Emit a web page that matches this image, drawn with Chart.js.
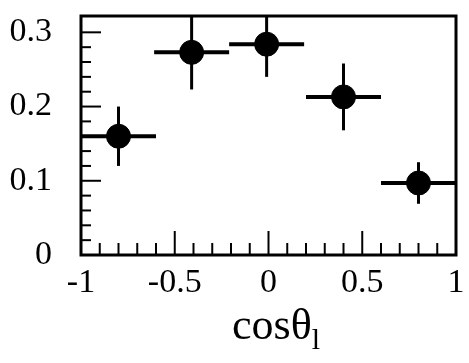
<!DOCTYPE html>
<html>
<head>
<meta charset="utf-8">
<script src="https://cdn.jsdelivr.net/npm/chart.js@4.4.1/dist/chart.umd.min.js"></script>
<style>
  body { margin: 0; background: #fff; }
  #wrap { position: relative; width: 469px; height: 363px; }
  #xTitle {
    position: absolute;
    left: 232px;
    top: 303px;
    font-family: "Liberation Serif", "Times New Roman", serif;
    font-size: 44px;
    line-height: 44px;
    color: #000;
  }
  #xTitle sub { font-size: 30px; vertical-align: -10px; line-height: 0; }
</style>
</head>
<body>
<div id="wrap">
  <canvas id="chart"></canvas>
  <div id="xTitle">cosθ<sub>l</sub></div>
</div>
<script>
  const xValues = [-0.8, -0.41, -0.01, 0.4, 0.8];
  const yValues = [0.16, 0.273, 0.284, 0.213, 0.097];
  const xErrors = [0.2, 0.2, 0.2, 0.2, 0.2];
  const yErrors = [0.04, 0.05, 0.044, 0.045, 0.028];

  const xTickLabels = [-1, -0.5, 0, 0.5, 1];
  const yTickLabels = [0, 0.1, 0.2, 0.3];

  const serif = "'Liberation Serif', 'Times New Roman', serif";

  function isLabel(list, value) {
    return list.some((v) => Math.abs(v - value) < 1e-6);
  }

  // error bars, clipped to the frame
  const errorBars = {
    id: "errorBars",
    beforeDatasetsDraw(chart) {
      const { ctx, chartArea, scales } = chart;
      ctx.save();
      ctx.beginPath();
      ctx.rect(chartArea.left, chartArea.top, chartArea.width, chartArea.height);
      ctx.clip();
      ctx.strokeStyle = "#000";
      xValues.forEach((x, i) => {
        const y = yValues[i];
        const px = scales.x.getPixelForValue(x);
        const py = scales.y.getPixelForValue(y);
        ctx.lineWidth = 4;
        ctx.beginPath();
        ctx.moveTo(scales.x.getPixelForValue(x - xErrors[i]), py);
        ctx.lineTo(scales.x.getPixelForValue(x + xErrors[i]), py);
        ctx.stroke();
        ctx.lineWidth = 3;
        ctx.beginPath();
        ctx.moveTo(px, scales.y.getPixelForValue(y - yErrors[i]));
        ctx.lineTo(px, scales.y.getPixelForValue(y + yErrors[i]));
        ctx.stroke();
      });
      ctx.restore();
    },
  };

  // frame and inward ticks
  const frame = {
    id: "frame",
    afterDraw(chart) {
      const { ctx, chartArea, scales } = chart;
      ctx.save();
      ctx.strokeStyle = "#000";
      ctx.lineWidth = 2;
      scales.x.ticks.forEach((t) => {
        if (Math.abs(Math.round(t.value * 10) - t.value * 10) > 1e-6) return;
        const px = scales.x.getPixelForValue(t.value);
        const len = isLabel(xTickLabels, t.value) ? 24 : 12;
        ctx.beginPath();
        ctx.moveTo(px, chartArea.bottom);
        ctx.lineTo(px, chartArea.bottom - len);
        ctx.stroke();
      });
      scales.y.ticks.forEach((t) => {
        if (Math.abs(Math.round(t.value * 50) - t.value * 50) > 1e-6) return;
        const py = scales.y.getPixelForValue(t.value);
        const len = isLabel(yTickLabels, t.value) ? 20 : 10;
        ctx.beginPath();
        ctx.moveTo(chartArea.left, py);
        ctx.lineTo(chartArea.left + len, py);
        ctx.stroke();
      });
      ctx.lineWidth = 3;
      ctx.strokeRect(chartArea.left, chartArea.top, chartArea.width, chartArea.height);
      ctx.restore();
    },
  };

  new Chart(document.getElementById("chart"), {
    type: "scatter",
    data: {
      datasets: [
        {
          data: xValues.map((x, i) => ({ x, y: yValues[i] })),
          backgroundColor: "#000",
          borderColor: "#000",
          pointRadius: 12,
          pointHoverRadius: 12,
        },
      ],
    },
    options: {
      responsive: true,
      maintainAspectRatio: false,
      animation: false,
      events: [],
      layout: {
        padding: { left: 0, top: 16, right: 9, bottom: 0 },
      },
      plugins: {
        legend: { display: false },
        tooltip: { enabled: false },
      },
      scales: {
        x: {
          type: "linear",
          min: -1,
          max: 1,
          grid: { display: false, drawTicks: false },
          border: { display: false },
          afterFit: (s) => {
            s.height = 108;
            s.paddingLeft = 0;
            s.paddingRight = 0;
          },
          ticks: {
            stepSize: 0.1,
            autoSkip: false,
            maxRotation: 0,
            padding: 8,
            color: "#000",
            font: { family: serif, size: 34 },
            callback: (v) => (isLabel(xTickLabels, v) ? String(Math.round(v * 10) / 10) : ""),
          },
        },
        y: {
          type: "linear",
          min: 0,
          max: 0.322,
          grid: { display: false, drawTicks: false },
          border: { display: false },
          afterFit: (s) => {
            s.width = 81;
            s.paddingTop = 0;
            s.paddingBottom = 0;
          },
          ticks: {
            stepSize: 0.02,
            autoSkip: false,
            padding: 29,
            color: "#000",
            font: { family: serif, size: 34 },
            callback: (v) => (isLabel(yTickLabels, v) ? String(Math.round(v * 10) / 10) : ""),
          },
        },
      },
    },
    plugins: [errorBars, frame],
  });
</script>
</body>
</html>
